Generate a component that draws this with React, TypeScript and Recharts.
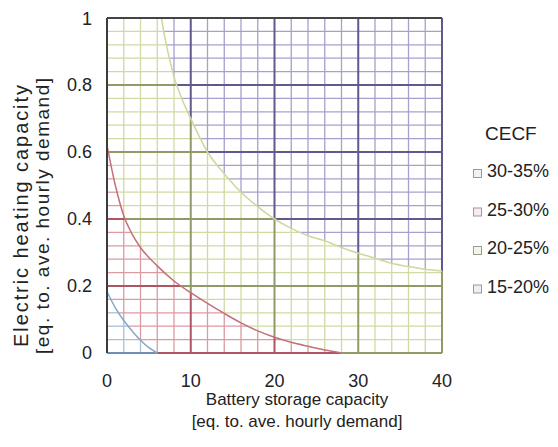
import { ComposedChart, XAxis, YAxis, Line, ReferenceLine } from "recharts"

type Pt = { x: number; y: number }

// contour boundaries (x = battery, y = heating)
const blueEdge: Pt[] = [
  { x: 0, y: 0.183 }, { x: 1, y: 0.135 }, { x: 2, y: 0.097 }, { x: 3, y: 0.066 },
  { x: 4, y: 0.038 }, { x: 5, y: 0.016 }, { x: 6, y: 0 },
]
const redEdge: Pt[] = [
  { x: 0, y: 0.62 }, { x: 1, y: 0.5 }, { x: 2, y: 0.41 }, { x: 3, y: 0.355 },
  { x: 4, y: 0.315 }, { x: 6, y: 0.26 }, { x: 8, y: 0.215 }, { x: 10, y: 0.18 },
  { x: 12, y: 0.148 }, { x: 14, y: 0.118 }, { x: 16, y: 0.09 }, { x: 18, y: 0.066 },
  { x: 20, y: 0.047 }, { x: 22, y: 0.032 }, { x: 24, y: 0.02 }, { x: 26, y: 0.009 },
  { x: 28, y: 0 },
]
const greenEdge: Pt[] = [
  { x: 6.5, y: 1 }, { x: 7, y: 0.93 }, { x: 8, y: 0.825 }, { x: 9, y: 0.755 },
  { x: 10, y: 0.7 }, { x: 12, y: 0.6 }, { x: 14, y: 0.535 }, { x: 16, y: 0.48 },
  { x: 18, y: 0.437 }, { x: 20, y: 0.4 }, { x: 22, y: 0.372 }, { x: 24, y: 0.35 },
  { x: 26, y: 0.335 }, { x: 28, y: 0.315 }, { x: 30, y: 0.298 }, { x: 32, y: 0.283 },
  { x: 34, y: 0.268 }, { x: 36, y: 0.258 }, { x: 38, y: 0.25 }, { x: 40, y: 0.245 },
]

const xTicks = [0, 10, 20, 30, 40]
const yTicks = [0, 0.2, 0.4, 0.6, 0.8, 1]
const xGrid = [0, 2, 4, 6, 8, 10, 12, 14, 16, 18, 20, 22, 24, 26, 28, 30, 32, 34, 36, 38, 40]
const yGrid = [
  0, 0.04, 0.08, 0.12, 0.16, 0.2, 0.24, 0.28, 0.32, 0.36, 0.4, 0.44, 0.48,
  0.52, 0.56, 0.6, 0.64, 0.68, 0.72, 0.76, 0.8, 0.84, 0.88, 0.92, 0.96, 1,
]

const bands = ["30-35%", "25-30%", "20-25%", "15-20%"]

// blue, red, green, purple
const minorColors = ["#a9c1d8", "#dc9aa2", "#cfdaa4", "#a4a1cc"]
const majorColors = ["#6f90b2", "#ad5560", "#8e9b66", "#5e5a8e"]
const edgeColors = ["#86a8c8", "#c27079", "#cfd79e"]
const markerFills = ["#eef3f8", "#f8ecee", "#f3f6e6", "#efeef7"]

// y of a boundary at x; left of the curve = above the plot, right of it = 0
function edgeAt(c: Pt[], x: number) {
  if (x < c[0].x) return 2
  if (x >= c[c.length - 1].x) return c[c.length - 1].y
  for (let i = 0; i < c.length - 1; i++) {
    const a = c[i], b = c[i + 1]
    if (x >= a.x && x <= b.x) return a.y + ((x - a.x) / (b.x - a.x)) * (b.y - a.y)
  }
  return 0
}

// x where a boundary reaches y
function edgeInv(c: Pt[], y: number) {
  if (y >= c[0].y) return c[0].x
  if (y <= c[c.length - 1].y) return c[c.length - 1].x
  for (let i = 0; i < c.length - 1; i++) {
    const a = c[i], b = c[i + 1]
    if (y <= a.y && y >= b.y) return a.x + ((a.y - y) / (a.y - b.y)) * (b.x - a.x)
  }
  return c[c.length - 1].x
}

type Seg = { x1: number; y1: number; x2: number; y2: number; band: number; major: boolean }

function buildSegments() {
  const segs: Seg[] = []
  const edges = [blueEdge, redEdge, greenEdge]
  xGrid.forEach((x, i) => {
    const cuts = [0, ...edges.map((e) => Math.min(1, edgeAt(e, x))), 1]
    for (let b = 0; b < 4; b++) {
      const lo = cuts[b]
      const hi = Math.max(lo, cuts[b + 1])
      if (hi - lo > 1e-6) segs.push({ x1: x, y1: lo, x2: x, y2: hi, band: b, major: i % 5 === 0 })
    }
  })
  yGrid.forEach((y, j) => {
    const cuts = [0, ...edges.map((e) => edgeInv(e, y)), 40]
    for (let b = 0; b < 4; b++) {
      const lo = cuts[b]
      const hi = Math.max(lo, cuts[b + 1])
      if (hi - lo > 1e-6) segs.push({ x1: lo, y1: y, x2: hi, y2: y, band: b, major: j % 5 === 0 })
    }
  })
  return segs
}

const font = "'Liberation Sans', Arial, sans-serif"

export default function App() {
  const segs = buildSegments()
  const minor = segs.filter((s) => !s.major)
  const major = segs.filter((s) => s.major)

  return (
    <div style={{ position: "relative", width: 550, height: 439, fontFamily: font }}>
      <ComposedChart width={550} height={439} margin={{ top: 10, right: 116, left: 0, bottom: 64 }}>
        <XAxis
          type="number"
          dataKey="x"
          domain={[0, 40]}
          ticks={xTicks}
          height={30}
          tickLine={false}
          axisLine={false}
          tickSize={6}
          tickMargin={15}
          tick={{ fontSize: 18, fill: "#222", fontFamily: font }}
        />
        <YAxis
          type="number"
          domain={[0, 1]}
          ticks={yTicks}
          width={99}
          tickLine={false}
          axisLine={false}
          tickSize={6}
          tickMargin={9}
          tick={{ fontSize: 18, fill: "#222", fontFamily: font }}
        />
        {minor.map((s, k) => (
          <ReferenceLine
            key={"m" + k}
            segment={[{ x: s.x1, y: s.y1 }, { x: s.x2, y: s.y2 }]}
            stroke={minorColors[s.band]}
            strokeWidth={1.3}
            ifOverflow="visible"
          />
        ))}
        {major.map((s, k) => (
          <ReferenceLine
            key={"M" + k}
            segment={[{ x: s.x1, y: s.y1 }, { x: s.x2, y: s.y2 }]}
            stroke={majorColors[s.band]}
            strokeWidth={2}
            ifOverflow="visible"
          />
        ))}
        <Line data={blueEdge} dataKey="y" type="monotone" stroke={edgeColors[0]} strokeWidth={1.5} dot={false} isAnimationActive={false} />
        <Line data={redEdge} dataKey="y" type="monotone" stroke={edgeColors[1]} strokeWidth={1.5} dot={false} isAnimationActive={false} />
        <Line data={greenEdge} dataKey="y" type="monotone" stroke={edgeColors[2]} strokeWidth={1.5} dot={false} isAnimationActive={false} />
        <ReferenceLine segment={[{ x: 0, y: 0 }, { x: 0, y: 1 }]} stroke="#3c3c3c" strokeWidth={2} ifOverflow="visible" />
        <ReferenceLine segment={[{ x: 0, y: 1 }, { x: 40, y: 1 }]} stroke="#444" strokeWidth={2} ifOverflow="visible" />
      </ComposedChart>

      <svg width={550} height={439} style={{ position: "absolute", left: 0, top: 0, pointerEvents: "none" }}>
        <g fontFamily={font} fill="#222">
          <text x={289} y={397} fontSize={17} textAnchor="middle">Battery storage capacity</text>
          <text x={289} y={419} fontSize={17} textAnchor="middle">[eq. to. ave. hourly demand]</text>
          <text
            transform="translate(20,208) rotate(-90)"
            fontSize={20}
            textAnchor="middle"
            textLength={262}
            lengthAdjust="spacing"
          >
            Electric heating capacity
          </text>
          <text
            transform="translate(41,208) rotate(-90)"
            fontSize={19}
            textAnchor="middle"
            textLength={276}
            lengthAdjust="spacing"
          >
            [eq. to. ave. hourly demand]
          </text>
          <text x={477} y={132} fontSize={19}>CECF</text>
          {bands.map((b, i) => (
            <g key={b}>
              <rect x={465.5} y={161.5 + i * 38.5} width={8} height={8} fill={markerFills[i]} stroke="#9a9a9a" strokeWidth={1} />
              <text x={479} y={169 + i * 38.5} fontSize={18}>{b}</text>
            </g>
          ))}
        </g>
      </svg>
    </div>
  )
}
